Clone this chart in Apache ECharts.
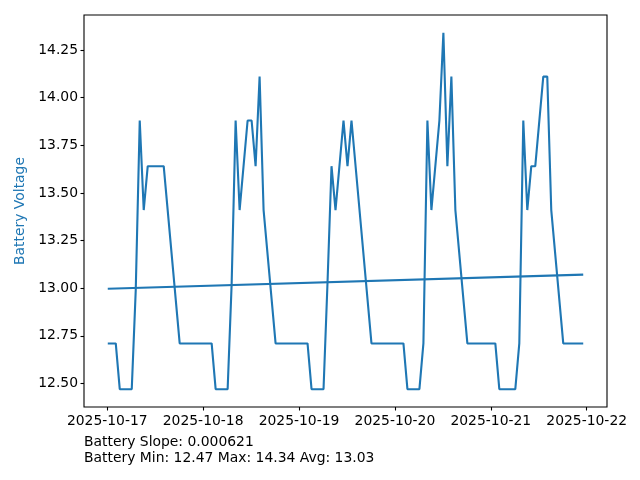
<!DOCTYPE html>
<html>
<head>
<meta charset="utf-8">
<script src="https://cdn.jsdelivr.net/npm/echarts@6/dist/echarts.min.js"></script>
<style>html,body{margin:0;padding:0;background:#fff}#c{width:640px;height:480px}</style>
</head>
<body>
<div id="c"></div>
<script>
const times = [
  '2025-10-17 00:08','2025-10-17 02:08','2025-10-17 03:08','2025-10-17 06:08','2025-10-17 07:08',
  '2025-10-17 08:08','2025-10-17 09:08','2025-10-17 10:08','2025-10-17 14:08','2025-10-17 18:08',
  '2025-10-18 02:08','2025-10-18 03:08','2025-10-18 06:08','2025-10-18 07:08','2025-10-18 08:08',
  '2025-10-18 09:08','2025-10-18 11:08','2025-10-18 12:08','2025-10-18 13:08','2025-10-18 14:08',
  '2025-10-18 15:08','2025-10-18 18:08',
  '2025-10-19 02:08','2025-10-19 03:08','2025-10-19 06:08','2025-10-19 07:08','2025-10-19 08:08',
  '2025-10-19 09:08','2025-10-19 11:08','2025-10-19 12:08','2025-10-19 13:08','2025-10-19 18:08',
  '2025-10-20 02:08','2025-10-20 03:08','2025-10-20 06:08','2025-10-20 07:08','2025-10-20 08:08',
  '2025-10-20 09:08','2025-10-20 11:08','2025-10-20 12:08','2025-10-20 13:08','2025-10-20 14:08',
  '2025-10-20 15:08','2025-10-20 18:08',
  '2025-10-21 01:08','2025-10-21 02:08','2025-10-21 06:08','2025-10-21 07:08','2025-10-21 08:08',
  '2025-10-21 09:08','2025-10-21 10:08','2025-10-21 11:08','2025-10-21 13:08','2025-10-21 14:08',
  '2025-10-21 15:08','2025-10-21 18:08','2025-10-21 23:08'
];
const voltages = [
  12.71,12.71,12.47,12.47,12.99,
  13.88,13.41,13.64,13.64,12.71,
  12.71,12.47,12.47,13.02,13.88,
  13.41,13.88,13.88,13.64,14.11,
  13.41,12.71,
  12.71,12.47,12.47,13.03,13.64,
  13.41,13.88,13.64,13.88,12.71,
  12.71,12.47,12.47,12.71,13.88,
  13.41,13.88,14.34,13.64,14.11,
  13.41,12.71,
  12.71,12.47,12.47,12.71,13.88,
  13.41,13.64,13.64,14.11,14.11,
  13.41,12.71,12.71
];
const trendStart = 12.997;       // fitted value at first sample
const trendSlopePerHour = 0.000621;
const dayTicks = ['2025-10-17','2025-10-18','2025-10-19','2025-10-20','2025-10-21','2025-10-22'];
const yTicks = [12.50,12.75,13.00,13.25,13.50,13.75,14.00,14.25];
const infoLines = ['Battery Slope: 0.000621','Battery Min: 12.47 Max: 14.34 Avg: 13.03'];

function toMs(s){
  const [d,t] = s.split(' ');
  const [Y,M,D] = d.split('-').map(Number);
  const [h,m] = (t||'00:00').split(':').map(Number);
  return Date.UTC(Y,M-1,D,h,m);
}
const xs = times.map(toMs);
const x0 = xs[0], x1 = xs[xs.length-1];
const H = 3600000;
const trendData = [[x0, trendStart],[x1, trendStart + trendSlopePerHour*(x1-x0)/H]];
const xPad = (x1-x0)*0.05;
const vMin = Math.min(...voltages), vMax = Math.max(...voltages);
const yPad = (vMax-vMin)*0.05;
const font = 'DejaVu Sans';
const blue = '#1f77b4';

const chart = echarts.init(document.getElementById('c'), null, {renderer:'canvas'});
chart.setOption({
  animation:false,
  backgroundColor:'#fff',
  grid:{left:84,right:33,top:15,bottom:73,show:true,borderColor:'#000',borderWidth:1.1,backgroundColor:'transparent'},
  xAxis:{
    type:'value',
    min:x0-xPad, max:x1+xPad,
    axisLine:{show:false},
    splitLine:{show:false},
    axisTick:{show:true,inside:false,length:3.5,lineStyle:{color:'#000',width:1.1},customValues:dayTicks.map(toMs)},
    axisLabel:{customValues:dayTicks.map(toMs),color:'#000',fontFamily:font,fontSize:13.9,margin:7,
      formatter:v=>{const d=new Date(v);return d.getUTCFullYear()+'-'+String(d.getUTCMonth()+1).padStart(2,'0')+'-'+String(d.getUTCDate()).padStart(2,'0');}}
  },
  yAxis:{
    type:'value',
    min:vMin-yPad, max:vMax+yPad,
    name:'Battery Voltage', nameLocation:'middle', nameGap:55, nameRotate:90,
    nameTextStyle:{color:blue,fontFamily:font,fontSize:13.9},
    axisLine:{show:false},
    splitLine:{show:false},
    axisTick:{show:true,length:3.5,lineStyle:{color:'#000',width:1.1},customValues:yTicks},
    axisLabel:{customValues:yTicks,color:'#000',fontFamily:font,fontSize:13.9,margin:6,formatter:v=>v.toFixed(2)}
  },
  series:[
    {type:'line',data:xs.map((x,i)=>[x,voltages[i]]),showSymbol:false,lineStyle:{color:blue,width:2.1},itemStyle:{color:blue}},
    {type:'line',data:trendData,showSymbol:false,lineStyle:{color:blue,width:2.1},itemStyle:{color:blue}}
  ],
  graphic:infoLines.map((t,i)=>({type:'text',left:84,top:435+i*16,style:{text:t,fill:'#000',font:'13.9px "DejaVu Sans"'}}))
});
</script>
</body>
</html>
